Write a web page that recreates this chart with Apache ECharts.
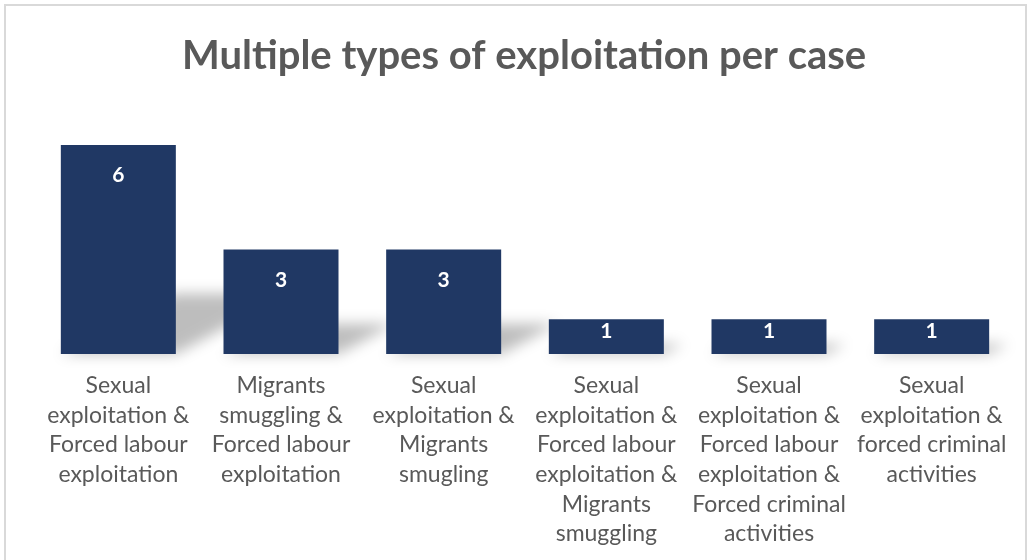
<!DOCTYPE html>
<html>
<head>
<meta charset="utf-8">
<script src="https://cdn.jsdelivr.net/npm/echarts@6/dist/echarts.min.js"></script>
<style>
html,body{margin:0;padding:0;background:#fff;}
#chart{width:1030px;height:560px;}
</style>
</head>
<body>
<div id="chart"></div>
<script>
const titleText = 'Multiple types of exploitation per case';
const categories = [
  'Sexual\nexploitation &\nForced labour\nexploitation',
  'Migrants\nsmuggling &\nForced labour\nexploitation',
  'Sexual\nexploitation &\nMigrants\nsmugling',
  'Sexual\nexploitation &\nForced labour\nexploitation &\nMigrants\nsmuggling',
  'Sexual\nexploitation &\nForced labour\nexploitation &\nForced criminal\nactivities',
  'Sexual\nexploitation &\nforced criminal\nactivities'
];
const values = [6, 3, 3, 1, 1, 1];

const FONT = "Lato, 'Open Sans', sans-serif";
const BAR_RATIO = 0.707;
const chart = echarts.init(document.getElementById('chart'));
chart.setOption({
  animation: false,
  title: {
    text: titleText,
    left: 177,
    top: 31,
    textStyle: {fontFamily: FONT, fontSize: 40, fontWeight: 'bold', color: '#595959'}
  },
  graphic: [{
    type: 'rect',
    shape: {x: 5, y: 5, width: 1021, height: 600},
    style: {fill: 'none', stroke: '#d9d9d9', lineWidth: 2},
    silent: true, z: -1
  }],
  grid: {left: 37, right: 17, top: 145, bottom: 206},
  xAxis: {
    type: 'category',
    data: categories,
    axisLine: {show: false},
    axisTick: {show: false},
    axisLabel: {
      interval: 0, fontFamily: FONT, fontSize: 23, lineHeight: 29.6,
      color: '#595959', margin: 17
    }
  },
  yAxis: {
    type: 'value', min: 0, max: 6, show: false, splitLine: {show: false}
  },
  series: [{
    type: 'custom',
    z: 1,
    silent: true,
    data: values.map((v, i) => [i, v]),
    renderItem: function (params, api) {
      const base = api.coord([api.value(0), 0]);
      const top = api.coord([api.value(0), api.value(1)]);
      const w = api.size([1, 0])[0] * BAR_RATIO;
      const h = base[1] - top[1];
      const xL = base[0] - w / 2, xR = base[0] + w / 2, yB = base[1];
      const OFF = 3000;
      const pts = [
        [xL - OFF, yB], [xR - OFF, yB],
        [xR + 0.54 * h - OFF, yB - 0.29 * h], [xL + 0.54 * h - OFF, yB - 0.29 * h]
      ];
      return {
        type: 'polygon',
        shape: {points: pts},
        style: {
          fill: '#000',
          shadowColor: 'rgba(0,0,0,0.26)',
          shadowBlur: 14,
          shadowOffsetX: OFF,
          shadowOffsetY: 0
        }
      };
    }
  }, {
    type: 'bar',
    z: 2,
    barWidth: (BAR_RATIO * 100) + '%',
    data: values.map(v => ({
      value: v,
      label: {distance: v > 1 ? 20 : 2}
    })),
    itemStyle: {color: '#203864'},
    label: {
      show: true, position: 'insideTop',
      fontFamily: FONT, fontSize: 21, fontWeight: 'bold', color: '#ffffff'
    }
  }]
});
</script>
</body>
</html>
